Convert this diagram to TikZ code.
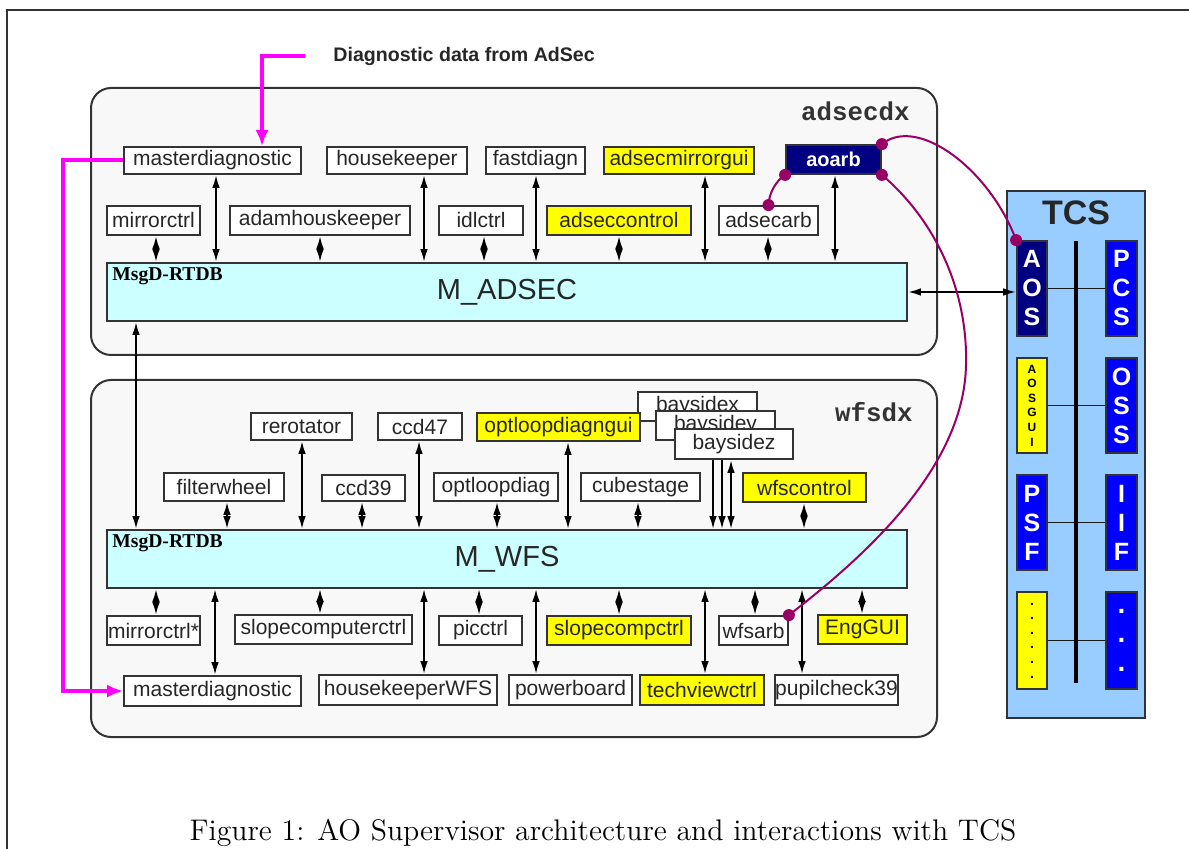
\documentclass[tikz,border=0pt]{standalone}
\usepackage{fontspec}
\newfontfamily\lib{Liberation Sans}
\newfontfamily\serifb{Liberation Serif}
\newfontfamily\monob{Liberation Mono}
\usetikzlibrary{arrows.meta}
\definecolor{cyanbox}{HTML}{CCFFFF}
\definecolor{ylw}{HTML}{FFFF00}
\definecolor{navy}{HTML}{000080}
\definecolor{tcsblue}{HTML}{99CCFF}
\definecolor{blu}{HTML}{0000FF}
\definecolor{mag}{HTML}{FF00FF}
\definecolor{purp}{HTML}{990066}
\definecolor{edge}{HTML}{333333}
\definecolor{contfill}{HTML}{F8F8F8}
\newcommand\mybox[7]{\node[#6, minimum width={(#4-#2)*0.5pt}, minimum height={(#5-#3)*0.5pt}] (#1) at ({(#2+#4)/2},{(#3+#5)/2}) {#7};}
\tikzset{
  box/.style={draw=edge, line width=0.9pt, fill=white, inner sep=0pt, text=black!85,
    font=\lib\fontsize{10.5}{12}\selectfont},
  ybox/.style={box, fill=ylw},
  navybox/.style={box, fill=navy, text=white, font=\lib\bfseries\fontsize{10}{12}\selectfont},
  dbbox/.style={box, fill=cyanbox, font=\lib\fontsize{14.5}{16}\selectfont},
  cont/.style={draw=edge, line width=1pt, fill=contfill, rounded corners=10pt, inner sep=0pt},
  contlbl/.style={anchor=east, inner sep=0pt, text=edge, font=\monob\bfseries\fontsize{12.9}{14}\selectfont},
  dblbl/.style={anchor=north west, inner sep=0pt, font=\serifb\bfseries\fontsize{9.8}{11}\selectfont},
  dbl/.style={{Latex[length=6.5pt,width=3.8pt]}-{Latex[length=6.5pt,width=3.8pt]}, line width=1pt},
  dn/.style={-{Latex[length=6.5pt,width=3.8pt]}, line width=1pt},
  magl/.style={draw=mag, line width=2pt, -{Latex[length=8pt,width=6.5pt]}},
  purpl/.style={draw=purp, line width=1pt},
  tcsbox/.style={draw=edge, line width=1pt, fill=tcsblue, inner sep=0pt},
  tl/.style={draw=edge, line width=0.9pt, inner sep=0pt, align=center, text=white,
    font=\lib\bfseries\fontsize{12.5}{14.5}\selectfont},
  tnavy/.style={tl, fill=navy},
  tblue/.style={tl, fill=blu},
  tyel/.style={tl, fill=ylw, text=black, font=\lib\bfseries\fontsize{6}{7.3}\selectfont},
  tyeldots/.style={tl, fill=ylw, text=black, font=\lib\bfseries\fontsize{7}{7.3}\selectfont},
  tbluedots/.style={tl, fill=blu, font=\lib\bfseries\fontsize{14}{14.5}\selectfont},
  hl/.style={draw=black!90, line width=0.75pt},
}
\begin{document}
\begin{tikzpicture}[x=0.5pt, y=-0.5pt]
\useasboundingbox (0,0) rectangle (1189,849);
% frame
\draw[line width=0.8pt, draw=edge] (7,849) -- (7,10) -- (1189,10);

% ---------------- adsecdx
\mybox{adsecdx}{91}{88}{937}{355}{cont}{}
\node[contlbl] (adseclbl) at (910,111) {adsecdx};
\mybox{md1}{124}{147}{301}{174}{box}{masterdiagnostic}
\mybox{hk1}{327}{147}{467}{174}{box}{housekeeper}
\mybox{fd}{486}{147}{585}{174}{box}{fastdiagn}
\mybox{amg}{604}{147}{754}{174}{ybox}{adsecmirrorgui}
\mybox{aoarb}{786}{145}{881}{174}{navybox}{aoarb}
\mybox{mc1}{107}{206}{200}{235}{box}{mirrorctrl}
\mybox{ahk}{230}{206}{410}{235}{box}{adamhouskeeper}
\mybox{idl}{439}{206}{523}{235}{box}{idlctrl}
\mybox{asc}{547}{206}{691}{235}{ybox}{adseccontrol}
\mybox{asa}{719}{206}{818}{235}{box}{adsecarb}
\mybox{madsec}{107}{263}{907}{321}{dbbox}{M\_ADSEC}
\node[dblbl] (madseclbl) at (112,267) {MsgD-RTDB};

\draw[dbl] (md1.south -| 216,0) -- (madsec.north -| 216,0);
\draw[dbl] (hk1.south -| 424,0) -- (madsec.north -| 424,0);
\draw[dbl] (fd.south -| 536,0) -- (madsec.north -| 536,0);
\draw[dbl] (amg.south -| 705,0) -- (madsec.north -| 705,0);
\draw[dbl] (aoarb.south -| 835,0) -- (madsec.north -| 835,0);
\draw[dbl] (mc1.south -| 156,0) -- (madsec.north -| 156,0);
\draw[dbl] (ahk.south -| 320,0) -- (madsec.north -| 320,0);
\draw[dbl] (idl.south -| 484,0) -- (madsec.north -| 484,0);
\draw[dbl] (asc.south -| 619,0) -- (madsec.north -| 619,0);
\draw[dbl] (asa.south -| 768,0) -- (madsec.north -| 768,0);

% ---------------- wfsdx
\mybox{wfsdx}{91}{380}{937}{737}{cont}{}
\node[contlbl] (wfslbl) at (913,412) {wfsdx};
\mybox{rerot}{251}{413}{352}{440}{box}{rerotator}
\mybox{ccdf}{378}{413}{462}{440}{box}{ccd47}
\mybox{bx}{638}{392}{757}{421}{box}{baysidex}
\mybox{by}{656}{411}{775}{440}{box}{baysidey}
\mybox{bz}{675}{429}{793}{459}{box}{baysidez}
\mybox{olg}{477}{413}{640}{441}{ybox}{optloopdiagngui}
\mybox{fw}{164}{473}{284}{501}{box}{filterwheel}
\mybox{ccdt}{322}{475}{405}{501}{box}{ccd39}
\mybox{old}{434}{473}{558}{501}{box}{optloopdiag}
\mybox{cube}{581}{473}{700}{501}{box}{cubestage}
\mybox{wfsc}{743}{473}{866}{502}{ybox}{wfscontrol}
\mybox{mwfs}{107}{530}{907}{588}{dbbox}{M\_WFS}
\node[dblbl] (mwfslbl) at (112,534) {MsgD-RTDB};
\mybox{mc2}{107}{616}{200}{645}{box}{mirrorctrl*}
\mybox{scc}{235}{615}{412}{644}{box}{slopecomputerctrl}
\mybox{pic}{439}{616}{522}{645}{box}{picctrl}
\mybox{slc}{547}{616}{691}{645}{ybox}{slopecompctrl}
\mybox{wfsarb}{719}{616}{788}{645}{box}{wfsarb}
\mybox{eng}{818}{615}{907}{644}{ybox}{EngGUI}
\mybox{md2}{124}{676}{301}{706}{box}{masterdiagnostic}
\mybox{hkw}{319}{675}{497}{705}{box}{housekeeperWFS}
\mybox{pwr}{509}{675}{632}{705}{box}{powerboard}
\mybox{tvc}{640}{675}{764}{705}{ybox}{techviewctrl}
\mybox{pup}{776}{675}{897}{705}{box}{pupilcheck39}

\draw[dbl] (fw.south -| 227,0) -- (mwfs.north -| 227,0);
\draw[dbl] (rerot.south -| 302,0) -- (mwfs.north -| 302,0);
\draw[dbl] (ccdt.south -| 362,0) -- (mwfs.north -| 362,0);
\draw[dbl] (ccdf.south -| 419,0) -- (mwfs.north -| 419,0);
\draw[dbl] (old.south -| 497,0) -- (mwfs.north -| 497,0);
\draw[dbl] (olg.south -| 568,0) -- (mwfs.north -| 568,0);
\draw[dbl] (cube.south -| 638,0) -- (mwfs.north -| 638,0);
\draw[dn] (bz.south -| 713,0) -- (mwfs.north -| 713,0);
\draw[dn] (bz.south -| 722,0) -- (mwfs.north -| 722,0);
\draw[dbl] (bz.south -| 731,0) -- (mwfs.north -| 731,0);
\draw[dbl] (wfsc.south -| 804,0) -- (mwfs.north -| 804,0);

\draw[dbl] (mwfs.south -| 156,0) -- (mc2.north -| 156,0);
\draw[dbl] (mwfs.south -| 215,0) -- (md2.north -| 215,0);
\draw[dbl] (mwfs.south -| 320,0) -- (scc.north -| 320,0);
\draw[dbl] (mwfs.south -| 424,0) -- (hkw.north -| 424,0);
\draw[dbl] (mwfs.south -| 479,0) -- (pic.north -| 479,0);
\draw[dbl] (mwfs.south -| 536,0) -- (pwr.north -| 536,0);
\draw[dbl] (mwfs.south -| 619,0) -- (slc.north -| 619,0);
\draw[dbl] (mwfs.south -| 705,0) -- (tvc.north -| 705,0);
\draw[dbl] (mwfs.south -| 755,0) -- (wfsarb.north -| 755,0);
\draw[dbl] (mwfs.south -| 802,0) -- (pup.north -| 802,0);
\draw[dbl] (mwfs.south -| 862,0) -- (eng.north -| 862,0);

% M_ADSEC <-> M_WFS
\draw[dbl] (madsec.south -| 136,0) -- (mwfs.north -| 136,0);

% ---------------- magenta diagnostics
\node[anchor=west, inner sep=0pt, text=black!85, font=\lib\bfseries\fontsize{9.8}{11}\selectfont] (diag) at (333,56) {Diagnostic data from AdSec};
\draw[magl] ([xshift=-14pt]diag.west) -| (md1.north -| 262,0);
\draw[magl] (md1.west) -- ++(-60,0) |- (md2.west);

% ---------------- TCS
\mybox{tcs}{1007}{191}{1145}{718}{tcsbox}{}
\node[font=\lib\bfseries\fontsize{17}{17}\selectfont, text=black!85] (tcslbl) at (1076,213) {TCS};
\coordinate (bust) at (1076,241);
\coordinate (busb) at (1076,683);
\mybox{aos}{1017}{241}{1047}{336}{tnavy}{A\\O\\S}
\mybox{pcs}{1106}{241}{1137}{336}{tblue}{P\\C\\S}
\mybox{aosgui}{1017}{358}{1047}{453}{tyel}{A\\O\\S\\G\\U\\I}
\mybox{oss}{1106}{358}{1137}{453}{tblue}{O\\S\\S}
\mybox{psf}{1017}{475}{1047}{570}{tblue}{P\\S\\F}
\mybox{iif}{1106}{475}{1137}{570}{tblue}{I\\I\\F}
\mybox{ydots}{1017}{592}{1047}{689}{tyeldots}{.\\.\\.\\.\\.\\.}
\mybox{bdots}{1106}{592}{1137}{689}{tbluedots}{.\\.\\.}
\draw[hl] (aos.east) -- (pcs.west);
\draw[hl] (aosgui.east) -- (oss.west);
\draw[hl] (psf.east) -- (iif.west);
\draw[hl] (ydots.east) -- (bdots.west);
\draw[line width=2pt] (bust) -- (busb);

\draw[dbl] (madsec.east) -- (madsec.east -| aos.west);

% ---------------- purple links
\draw[purpl] (aoarb.south west) .. controls (777,180) and (769,192) .. (asa.north);
\draw[purpl] (aoarb.north east) .. controls (918,115) and (990,170) .. (aos.north west);
\draw[purpl] (aoarb.south east) .. controls (935,220) and (968,290) .. (966,365)
   .. controls (964,470) and (860,560) .. (wfsarb.north east);
\fill[purp] (aoarb.south west) circle (3pt);
\fill[purp] (asa.north) circle (3pt);
\fill[purp] (aoarb.north east) circle (3pt);
\fill[purp] (aos.north west) circle (3pt);
\fill[purp] (aoarb.south east) circle (3pt);
\fill[purp] (wfsarb.north east) circle (3pt);

% ---------------- caption
\node[anchor=base, inner sep=0pt, font=\fontsize{14.9}{17}\selectfont] (cap) at (603,840) {Figure 1: AO Supervisor architecture and interactions with TCS};
\end{tikzpicture}
\end{document}
